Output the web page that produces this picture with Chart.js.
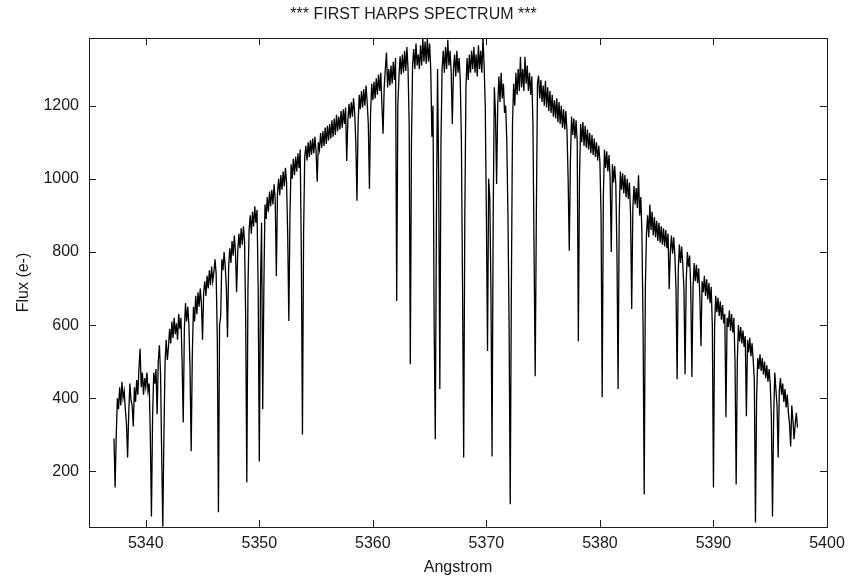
<!DOCTYPE html>
<html>
<head>
<meta charset="utf-8">
<script src="https://cdn.jsdelivr.net/npm/chart.js@4"></script>
<style>
  body { margin: 0; background: #fff; }
  canvas { display: block; }
</style>
</head>
<body>
<canvas id="spec" width="849" height="582"></canvas>
<script>
// HARPS spectrum, sampled every 0.1 Angstrom starting at 5337.2
const lambdaStart = 5337.2;
const lambdaStep = 0.1;

// flux (e-), one row per Angstrom (.1 ... .9 .0)
const flux = [
  290, 156, 300, 400, 370, 430, 380, 445, 400,                  // 5337 (.2 - .0)
  420, 370, 330, 238, 360, 440, 395, 380, 323, 430,             // 5338
  390, 450, 410, 480, 535, 430, 470, 410, 455, 430,             // 5339
  470, 420, 440, 300, 77, 350, 470, 440, 480, 356,              // 5340
  500, 545, 470, 250, 49, 300, 500, 560, 505, 540,              // 5341
  590, 550, 610, 565, 620, 575, 605, 560, 630, 590,             // 5342
  620, 500, 334, 590, 660, 610, 650, 600, 480, 255,             // 5343
  520, 650, 610, 680, 630, 690, 650, 700, 660, 560,             // 5344
  690, 720, 680, 735, 700, 750, 710, 760, 720, 745,             // 5345
  780, 740, 560, 88, 600, 625, 780, 750, 800, 760,              // 5346
  700, 567, 760, 810, 770, 830, 790, 845, 800, 690,             // 5347
  800, 850, 810, 865, 820, 870, 830, 620, 170, 700,             // 5348
  860, 900, 850, 910, 870, 925, 880, 915, 700, 227,             // 5349
  700, 880, 370, 700, 930, 890, 950, 910, 965, 925,             // 5350
  970, 930, 985, 945, 734, 960, 1000, 955, 1010, 970,           // 5351
  1020, 980, 1030, 990, 850, 611, 900, 1040, 1000, 1055,        // 5352
  1010, 1060, 1020, 1070, 1030, 1080, 800, 301, 850, 1060,      // 5353
  1090, 1050, 1100, 1060, 1105, 1065, 1110, 1070, 1115, 1075,   // 5354
  992, 1100, 1080, 1125, 1085, 1130, 1090, 1140, 1095, 1145,    // 5355
  1105, 1150, 1110, 1160, 1115, 1165, 1120, 1175, 1130, 1170,   // 5356
  1135, 1185, 1140, 1190, 1150, 1195, 1049, 1160, 1205, 1165,   // 5357
  1210, 1170, 1220, 1180, 1100, 940, 1150, 1230, 1190, 1240,    // 5358
  1195, 1245, 1200, 1255, 1210, 1150, 973, 1180, 1260, 1215,    // 5359
  1265, 1220, 1275, 1230, 1285, 1240, 1290, 1200, 1123, 1250,   // 5360
  1300, 1345, 1250, 1300, 1255, 1310, 1260, 1320, 1270, 1330,   // 5361
  666, 1200, 1280, 1335, 1285, 1340, 1290, 1350, 1295, 1360,    // 5362
  1300, 1150, 493, 1100, 1310, 1355, 1300, 1370, 1310, 1340,    // 5363
  1300, 1365, 1310, 1385, 1320, 1375, 1315, 1385, 1320, 1370,   // 5364
  1300, 1115, 1200, 600, 288, 900, 1300, 1000, 425, 1100,       // 5365
  1300, 1350, 1290, 1360, 1300, 1380, 1310, 1350, 1290, 1150,   // 5366
  1300, 1340, 1280, 1350, 1290, 1330, 1270, 1100, 700, 238,     // 5367
  900, 1250, 1330, 1270, 1340, 1290, 1350, 1300, 1360, 1290,    // 5368
  1340, 1280, 1365, 1300, 1350, 1290, 1385, 1310, 1200, 900,    // 5369
  529, 1000, 950, 700, 241, 900, 1250, 1180, 986, 1200,         // 5370
  1280, 1210, 1290, 1220, 1260, 1180, 1200, 1100, 900, 600,     // 5371
  110, 700, 1150, 1260, 1200, 1290, 1230, 1300, 1240, 1334,     // 5372
  1250, 1300, 1240, 1334, 1260, 1310, 1240, 1290, 1230, 1280,   // 5373
  1150, 800, 460, 900, 1260, 1282, 1220, 1270, 1210, 1255,      // 5374
  1200, 1268, 1195, 1250, 1185, 1240, 1180, 1230, 1170, 1215,   // 5375
  1165, 1220, 1155, 1210, 1150, 1200, 1140, 1190, 1135, 1185,   // 5376
  1130, 1000, 803, 1050, 1170, 1120, 1165, 1110, 1160, 1100,    // 5377
  556, 1000, 1150, 1100, 1155, 1090, 1145, 1085, 1135, 1080,    // 5378
  1125, 1070, 1120, 1065, 1110, 1060, 1100, 1050, 1090, 1045,   // 5379
  900, 403, 950, 1080, 1030, 1075, 1020, 1065, 1000, 800,       // 5380
  1040, 990, 1035, 985, 800, 425, 900, 1020, 970, 1015,         // 5381
  960, 1010, 950, 1000, 945, 990, 900, 644, 920, 980,           // 5382
  930, 975, 920, 1010, 900, 950, 850, 600, 137, 700,            // 5383
  850, 900, 840, 930, 860, 910, 845, 895, 840, 885,             // 5384
  830, 880, 825, 870, 820, 865, 815, 860, 810, 850,             // 5385
  699, 800, 845, 795, 840, 790, 700, 452, 750, 820,             // 5386
  770, 815, 765, 700, 466, 720, 800, 760, 790, 700,             // 5387
  458, 700, 770, 720, 765, 715, 755, 680, 542, 720,             // 5388
  690, 735, 680, 725, 670, 715, 660, 705, 600, 156,             // 5389
  600, 680, 635, 675, 625, 665, 615, 655, 605, 630,             // 5390
  348, 620, 595, 640, 585, 630, 580, 620, 500, 164,             // 5391
  500, 600, 555, 595, 550, 585, 540, 570, 351, 560,             // 5392
  525, 565, 515, 550, 505, 450, 60, 400, 510, 480,              // 5393
  520, 475, 510, 465, 500, 455, 490, 445, 480, 440,             // 5394
  350, 77, 350, 470, 425, 380, 238, 420, 455, 410,              // 5395
  440, 390, 425, 375, 410, 360, 330, 268, 380, 340,             // 5396
  288, 330, 360, 320                                            // 5397 (.1 - .4)
];

const xTicks = [5340, 5350, 5360, 5370, 5380, 5390, 5400];
const yTicks = [200, 400, 600, 800, 1000, 1200];

const points = flux.map((f, i) => ({ x: +(lambdaStart + i * lambdaStep).toFixed(1), y: f }));

const font = { family: "'Liberation Sans', Arial, sans-serif", size: 16 };
const ink = "#1a1a1a";

// gnuplot style frame with inward ticks on all four sides
const frame = {
  id: "frame",
  afterDraw(chart) {
    const { ctx, chartArea: a, scales } = chart;
    const len = 7;
    ctx.save();
    ctx.strokeStyle = ink;
    ctx.lineWidth = 1;
    ctx.strokeRect(a.left + 0.5, a.top + 0.5, a.right - a.left, a.bottom - a.top);
    ctx.beginPath();
    xTicks.forEach(v => {
      const px = Math.round(scales.x.getPixelForValue(v)) + 0.5;
      ctx.moveTo(px, a.bottom); ctx.lineTo(px, a.bottom - len);
      ctx.moveTo(px, a.top); ctx.lineTo(px, a.top + len);
    });
    yTicks.forEach(v => {
      const py = Math.round(scales.y.getPixelForValue(v)) + 0.5;
      ctx.moveTo(a.left, py); ctx.lineTo(a.left + len, py);
      ctx.moveTo(a.right, py); ctx.lineTo(a.right - len, py);
    });
    ctx.stroke();
    ctx.restore();
  }
};

new Chart(document.getElementById("spec"), {
  type: "line",
  data: {
    datasets: [{
      data: points,
      borderColor: "#000",
      borderWidth: 1.3,
      pointRadius: 0,
      tension: 0,
      fill: false
    }]
  },
  options: {
    responsive: false,
    animation: false,
    layout: { padding: { left: 0, right: 22, top: 0, bottom: 0 } },
    plugins: {
      legend: { display: false },
      tooltip: { enabled: false },
      title: {
        display: true,
        text: "*** FIRST HARPS SPECTRUM ***",
        color: ink,
        font: { ...font, weight: "normal" },
        padding: { top: 5.4, bottom: 13.4 }
      }
    },
    scales: {
      x: {
        type: "linear",
        min: 5335,
        max: 5400,
        afterBuildTicks: s => { s.ticks = xTicks.map(v => ({ value: v })); },
        afterFit: s => { s.height = 55; s.paddingLeft = 0; s.paddingRight = 0; },
        grid: { display: false, drawTicks: false },
        border: { display: false },
        ticks: { color: ink, font, padding: 7, maxRotation: 0, callback: v => String(v) },
        title: { display: true, text: "Angstrom", color: ink, font, padding: { top: 4, bottom: 4.4 } }
      },
      y: {
        type: "linear",
        min: 48,
        max: 1385,
        afterBuildTicks: s => { s.ticks = yTicks.map(v => ({ value: v })); },
        afterFit: s => { s.width = 89; s.paddingTop = 0; s.paddingBottom = 0; },
        grid: { display: false, drawTicks: false },
        border: { display: false },
        ticks: { color: ink, font, padding: 10, callback: v => String(v) },
        title: { display: true, text: "Flux (e-)", color: ink, font, padding: { top: 14.4, bottom: 4 } }
      }
    }
  },
  plugins: [frame]
});
</script>
</body>
</html>
